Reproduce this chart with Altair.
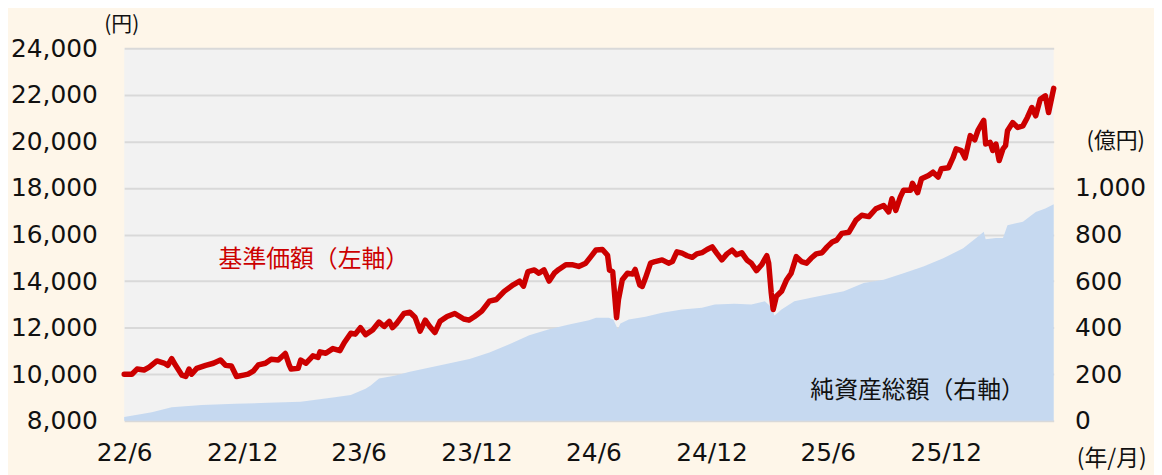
import altair as alt
import pandas as pd

LAUNCH = "2022-06-30"

# 基準価額 (円): days since launch, value
price_days = [0, 12, 20, 31, 39, 51, 62, 68, 74, 80,
              90, 96, 101, 105, 113, 127, 139, 150, 158, 167,
              175, 186, 193, 201, 209, 220, 229, 240, 251, 257,
              260, 271, 275, 283, 294, 302, 305, 314, 325, 336,
              343, 353, 360, 368, 376, 387, 397, 405, 413, 418,
              425, 436, 445, 453, 461, 469, 476, 484, 492, 503,
              515, 529, 537, 546, 557, 569, 580, 592, 606, 616,
              622, 629, 639, 646, 654, 662, 670, 677, 688, 699,
              708, 719, 727, 735, 745, 753, 756, 761, 767, 770,
              776, 784, 792, 796, 803, 807, 812, 820, 827, 838,
              848, 854, 861, 869, 877, 885, 892, 900, 908, 916,
              923, 931, 939, 947, 954, 962, 970, 977, 985, 993,
              1001, 1004, 1008, 1011, 1016, 1024, 1032, 1039, 1047, 1055,
              1063, 1070, 1078, 1087, 1095, 1103, 1110, 1118, 1129, 1140,
              1149, 1160, 1171, 1183, 1191, 1196, 1202, 1209, 1214, 1225,
              1228, 1236, 1242, 1253, 1260, 1268, 1273, 1284, 1291, 1296,
              1304, 1310, 1318, 1325, 1330, 1339, 1342, 1349, 1353, 1358,
              1363, 1369, 1373, 1376, 1384, 1392, 1400, 1407, 1414, 1420,
              1427, 1435, 1440, 1446, 1448]
price_values = [10000, 10000, 10220, 10180, 10300, 10570, 10480, 10380, 10670, 10380,
                9960, 9900, 10220, 10000, 10250, 10380, 10470, 10610, 10380, 10350,
                9900, 9960, 10000, 10130, 10400, 10470, 10640, 10610, 10890, 10400,
                10220, 10250, 10610, 10470, 10790, 10720, 10960, 10900, 11100, 11010,
                11360, 11760, 11720, 12000, 11700, 11900, 12240, 12050, 12270, 12000,
                12200, 12610, 12660, 12450, 11850, 12320, 12050, 11790, 12270, 12480,
                12610, 12370, 12320, 12480, 12710, 13140, 13210, 13560, 13840, 14000,
                13780, 14410, 14480, 14340, 14480, 14000, 14340, 14500, 14700, 14700,
                14630, 14770, 15050, 15340, 15360, 15110, 14470, 14400, 12430, 13210,
                14060, 14340, 14300, 14500, 13840, 13770, 14130, 14770, 14840, 14910,
                14770, 14840, 15260, 15200, 15090, 15020, 15170, 15220, 15360, 15470,
                15200, 14910, 15170, 15330, 15130, 15220, 14910, 14770, 14450, 14700,
                15090, 14770, 13490, 12780, 13350, 13560, 14060, 14340, 15050, 14840,
                14770, 14980, 15170, 15220, 15470, 15680, 15760, 16050, 16100, 16620,
                16830, 16770, 17110, 17250, 16970, 17540, 17040, 17610, 17900, 17900,
                18200, 17800, 18400, 18540, 18680, 18470, 18830, 18870, 19290, 19680,
                19610, 19290, 20250, 20070, 20480, 20910, 19890, 19960, 19610, 19890,
                19180, 19680, 19820, 20460, 20810, 20600, 20670, 21030, 21460, 21100,
                21810, 21960, 21240, 22020, 22280]

# 純資産総額 (億円)
nav_days = [0, 43, 74, 121, 173, 224, 275, 328, 353, 363,
            376, 384, 397, 421, 445, 476, 507, 538, 569, 600,
            631, 662, 693, 724, 735, 755, 762, 769, 773, 786,
            812, 838, 869, 900, 920, 951, 977, 998, 1008, 1013,
            1024, 1044, 1070, 1095, 1121, 1152, 1183, 1214, 1245, 1276,
            1307, 1333, 1339, 1342, 1358, 1369, 1376, 1400, 1420, 1435,
            1448]
nav_values = [16, 37, 58, 68, 73, 77, 82, 101, 111, 122,
              137, 151, 182, 193, 210, 229, 247, 265, 293, 329,
              367, 393, 414, 432, 442, 443, 435, 393, 418, 435,
              447, 464, 478, 485, 499, 503, 499, 513, 489, 452,
              478, 513, 528, 542, 556, 592, 606, 634, 663, 698,
              741, 798, 812, 780, 785, 785, 840, 855, 897, 912,
              930]

x_tick_dates = ["2022-06-30", "2022-12-31", "2023-06-30", "2023-12-31",
                "2024-06-30", "2024-12-31", "2025-06-30", "2025-12-31"]
x_domain = ["2022-06-30", "2026-06-17"]
left_ticks = [8000, 10000, 12000, 14000, 16000, 18000, 20000, 22000, 24000]
left_domain = [8000, 24000]
right_ticks = [0, 200, 400, 600, 800, 1000]
right_domain = [0, 1600]

price_label = ["基準価額（左軸）"]
price_label_date = ["2022-11-24"]
price_label_value = [14900]
nav_label = ["純資産総額（右軸）"]
nav_label_date = ["2026-05-03"]
nav_label_value = [128]

NUM_FONT = "DejaVu Sans"
JP_FONT = "Noto Sans CJK JP"


def to_dates(days):
    return list((pd.Timestamp(LAUNCH) + pd.to_timedelta(days, unit="D")).strftime("%Y-%m-%d"))


def dt(s):
    y, m, d = (int(v) for v in s.split("-"))
    return alt.DateTime(year=y, month=m, date=d, utc=True)


price_df = pd.DataFrame({"date": to_dates(price_days), "price": price_values})
nav_df = pd.DataFrame({"date": to_dates(nav_days), "nav": nav_values})
ann1 = pd.DataFrame({"date": price_label_date, "price": price_label_value, "label": price_label})
ann2 = pd.DataFrame({"date": nav_label_date, "nav": nav_label_value, "label": nav_label})

x_scale = alt.Scale(type="utc", domain=[dt(x_domain[0]), dt(x_domain[1])])
x_axis = alt.Axis(
    values=[dt(s) for s in x_tick_dates],
    labelExpr="utcFormat(datum.value, '%y/%-m')",
    labelFont=NUM_FONT, labelFontSize=25, labelColor="#111111",
    labelPadding=20, labelFlush=False, labelOverlap=False,
    domain=False, ticks=False, grid=False,
    title="(年/月)", titleFont=JP_FONT, titleFontSize=23, titleFontWeight="normal",
    titleColor="#111111", titleAngle=0, titleAlign="center", titleBaseline="middle",
    titleX=994, titleY=38,
)
left_axis = alt.Axis(
    orient="left", values=left_ticks, format=",d",
    labelFont=NUM_FONT, labelFontSize=25, labelColor="#111111", labelPadding=27,
    domain=False, ticks=False, grid=True, gridColor="#d9d9d9", gridWidth=2,
    title="(円)", titleFont=JP_FONT, titleFontSize=21, titleFontWeight="normal",
    titleColor="#111111", titleAngle=0, titleAlign="center", titleBaseline="middle",
    titleX=-3, titleY=-24,
)
right_axis = alt.Axis(
    orient="right", values=right_ticks, format=",d",
    labelFont=NUM_FONT, labelFontSize=25, labelColor="#111111", labelPadding=21,
    labelAlign="left",
    domain=False, ticks=False, grid=False,
    title="(億円)", titleFont=JP_FONT, titleFontSize=22, titleFontWeight="normal",
    titleColor="#111111", titleAngle=0, titleAlign="center", titleBaseline="middle",
    titleX=62, titleY=93,
)

x_enc = alt.X("date:T", scale=x_scale, axis=x_axis)
y_right = alt.Y("nav:Q", scale=alt.Scale(domain=right_domain, nice=False), axis=right_axis)
y_left = alt.Y("price:Q", scale=alt.Scale(domain=left_domain, nice=False, zero=False), axis=left_axis)

area = alt.Chart(nav_df).mark_area(color="#c6d9f0", opacity=1).encode(x=x_enc, y=y_right)
nav_text = alt.Chart(ann2).mark_text(
    font=JP_FONT, fontSize=24, color="#111111", align="right", baseline="middle"
).encode(x=x_enc, y=y_right, text="label:N")

line = alt.Chart(price_df).mark_line(
    color="#cc0000", strokeWidth=5.5, strokeJoin="round", strokeCap="round"
).encode(x=x_enc, y=y_left)
price_text = alt.Chart(ann1).mark_text(
    font=JP_FONT, fontSize=24, color="#cc0000", align="left", baseline="middle"
).encode(x=x_enc, y=y_left, text="label:N")

chart = (
    alt.layer(alt.layer(area, nav_text), alt.layer(line, price_text))
    .resolve_scale(y="independent")
    .properties(
        width=936, height=375,
        autosize=alt.AutoSizeParams(type="none"),
        padding={"left": 117, "top": 39, "right": 101, "bottom": 53},
        background="#fef6e9",
    )
    .configure_view(fill="#f2f2f2", stroke=None)
)

chart.save("out.html", embed_options={"renderer": "svg", "actions": False})
